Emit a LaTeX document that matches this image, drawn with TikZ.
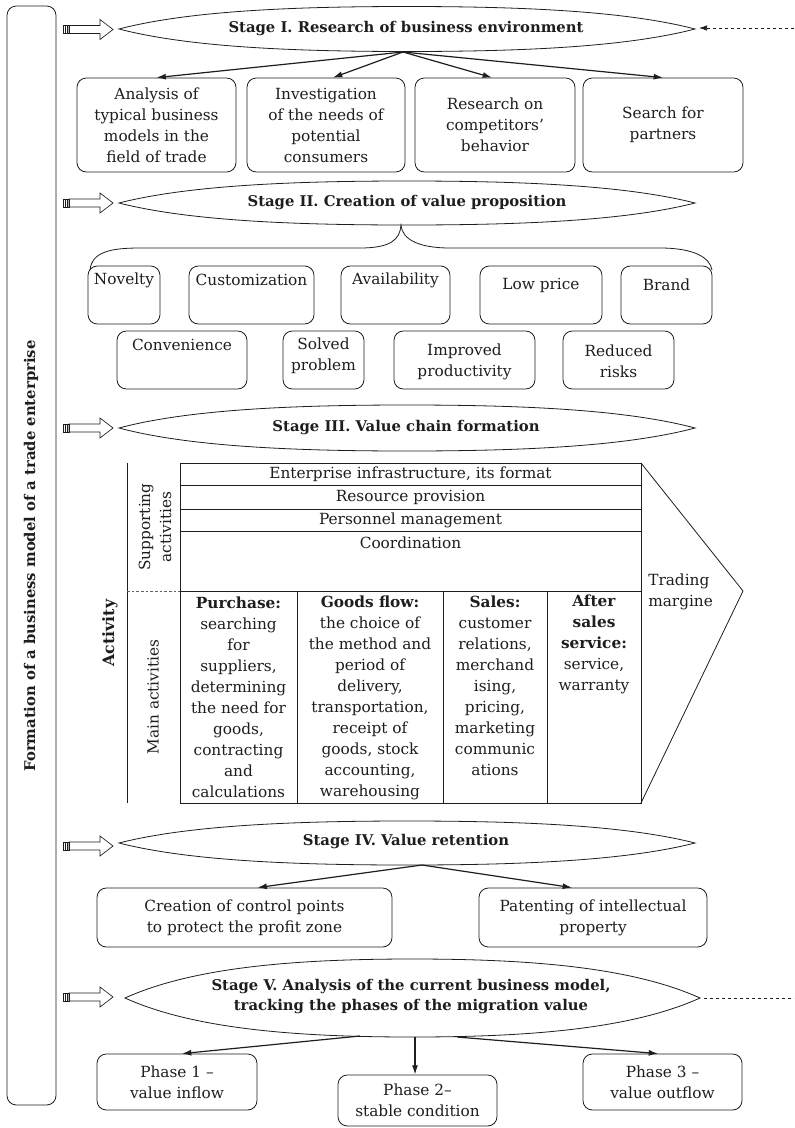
\documentclass[tikz,border=0pt]{standalone}
\usepackage{fontspec}
\setmainfont{DejaVu Serif}
\usetikzlibrary{arrows.meta,calc}
\def\u{0.75pt}
\newcommand\bx{\fontsize{11.5}{15.75}\selectfont}
\newcommand\ttlfont{\fontsize{11.1}{15}\selectfont\bfseries}
\definecolor{ink}{HTML}{1E1E1E}
\newcommand\lensshape[4]{%
 \draw[lens] (#1,#3) .. controls ({#1+0.12*(#2-#1)},{#3-0.8*#4}) and ({#1+0.3*(#2-#1)},{#3-#4}) .. ({(#1+#2)/2},{#3-#4})
  .. controls ({#2-0.3*(#2-#1)},{#3-#4}) and ({#2-0.12*(#2-#1)},{#3-0.8*#4}) .. (#2,#3)
  .. controls ({#2-0.12*(#2-#1)},{#3+0.8*#4}) and ({#2-0.3*(#2-#1)},{#3+#4}) .. ({(#1+#2)/2},{#3+#4})
  .. controls ({#1+0.3*(#2-#1)},{#3+#4}) and ({#1+0.12*(#2-#1)},{#3+0.8*#4}) .. cycle;}
\tikzset{
 lens/.style={draw=ink, line width=0.6pt},
 box/.style={draw=ink, rounded corners=7pt, line width=0.6pt, inner sep=0pt, align=center, font=\bx, text=ink},
 txt/.style={font=\bx, align=center, inner sep=0pt, text=ink},
 ttl/.style={font=\ttlfont, align=center, inner sep=0pt, text=ink},
 arr/.style={draw=ink, -{Latex[length=7pt,width=4.5pt]}, line width=0.9pt},
 tbl/.style={draw=ink, line width=0.7pt},
 harrow/.pic={
  \draw[ink, line width=0.5pt, fill=white] (69,-4) -- (100,-4) -- (100,-10) -- (113,0) -- (100,10) -- (100,4) -- (69,4) -- cycle;
  \draw[ink, line width=0.4pt] (63,-4) rectangle (69,4);
  \draw[ink, line width=0.4pt] (65,-4) -- (65,4) (67,-4) -- (67,4);
 }
}
\begin{document}
\begin{tikzpicture}[x=0.75pt,y=-0.75pt]
\useasboundingbox (0,0) rectangle (794,1128);
\fill[white] (0,0) rectangle (794,1128);

% frame
\node[draw=ink, rounded corners=7pt, line width=0.6pt, minimum width=49*\u, minimum height=1099*\u, inner sep=0pt] (frame) at (31.5,555.5) {};
\node[rotate=90, font=\fontsize{11.1}{12}\selectfont\bfseries, text=ink] (frametxt) at (31,556) {Formation of a business model of a trade enterprise};

% hollow arrows
\pic at (0,29.5) {harrow};
\pic at (0,203) {harrow};
\pic at (0,428) {harrow};
\pic at (0,846) {harrow};
\pic at (0,997) {harrow};

% Stage I
\lensshape{119}{695}{29}{22.5}
\node[ttl] (s1) at (406,29) {Stage I. Research of business environment};
\coordinate (s1b) at (403,52);
\coordinate (s1r) at (699,28);
\coordinate (fbk) at (794,28);
\draw[draw=ink, line width=0.5pt, dash pattern=on 2.5pt off 2pt, -{Latex[length=6pt,width=4pt]}] (fbk) -- (s1r);

\node[box, minimum width=159*\u, minimum height=94*\u] (b1) at (156.5,125) {Analysis of\\typical business\\models in the\\field of trade};
\node[box, minimum width=158*\u, minimum height=94*\u] (b2) at (326,125) {Investigation\\of the needs of\\potential\\consumers};
\node[box, minimum width=160*\u, minimum height=94*\u] (b3) at (495,125) {Research on\\competitors'\\behavior};
\node[box, minimum width=160*\u, minimum height=94*\u] (b4) at (663,125) {Search for\\partners};
\draw[arr] (s1b) -- (b1.north);
\draw[arr] (s1b) -- ($(b2.north)+(7,0)$);
\draw[arr] (s1b) -- ($(b3.north)+(-3,0)$);
\draw[arr] (s1b) -- (b4.north);

% Stage II
\lensshape{119}{695}{203}{22}
\node[ttl] (s2) at (407,203) {Stage II. Creation of value proposition};
\coordinate (s2b) at (401,225);
\draw[draw=ink, line width=0.6pt] (90,270) .. controls (92,252) and (110,248) .. (140,248) -- (360,248)
  .. controls (390,248) and (400,240) .. (s2b) .. controls (402,240) and (420,248) .. (450,248) -- (660,248)
  .. controls (695,248) and (710,258) .. (712,270);

\node[box, minimum width=72*\u, minimum height=58*\u] (nov) at (124,295) {};
\node[txt] (novt) at (124,280) {Novelty};
\node[box, minimum width=125*\u, minimum height=58*\u] (cus) at (251.5,295) {};
\node[txt] (cust) at (251.5,280) {Customization};
\node[box, minimum width=109*\u, minimum height=58*\u] (ava) at (395.5,295) {};
\node[txt] (avat) at (395.5,280) {Availability};
\node[box, minimum width=122*\u, minimum height=58*\u] (low) at (541,295) {};
\node[txt] (lowt) at (541,285) {Low price};
\node[box, minimum width=91*\u, minimum height=58*\u] (bra) at (666.5,295) {};
\node[txt] (brat) at (666.5,285) {Brand};

\node[box, minimum width=130*\u, minimum height=58*\u] (con) at (182,360) {};
\node[txt] (cont) at (182,345) {Convenience};
\node[box, minimum width=81*\u, minimum height=58*\u] (sol) at (323.5,360) {};
\node[txt] (solt) at (323.5,356) {Solved\\problem};
\node[box, minimum width=141*\u, minimum height=58*\u] (imp) at (464.5,360) {};
\node[txt] (impt) at (464.5,361.5) {Improved\\productivity};
\node[box, minimum width=111*\u, minimum height=58*\u] (red) at (618.5,360) {};
\node[txt] (redt) at (618.5,361.5) {Reduced\\risks};

% Stage III
\lensshape{119}{695}{428}{23}
\node[ttl] (s3) at (406,428) {Stage III. Value chain formation};

\draw[tbl] (127,463) -- (127,803);
\draw[draw=ink!70, line width=0.6pt, dash pattern=on 2pt off 1.5pt] (127,591) -- (180,591);
\draw[tbl] (180,463) rectangle (641,803);
\draw[tbl] (180,485) -- (641,485) (180,509) -- (641,509) (180,531) -- (641,531) (180,591) -- (641,591);
\draw[tbl] (297,591) -- (297,803) (443,591) -- (443,803) (547,591) -- (547,803);
\draw[draw=ink, line width=0.6pt] (641,463) -- (743,591) -- (641,803);

\node[rotate=90, font=\fontsize{11.8}{12}\selectfont\bfseries, text=ink] (act) at (110,633) {Activity};
\node[txt, rotate=90] (sup) at (155,527) {Supporting\\activities};
\node[txt, rotate=90] (mai) at (153,697) {Main activities};

\node[txt] (r1) at (410.5,474) {Enterprise infrastructure, its format};
\node[txt] (r2) at (410.5,497) {Resource provision};
\node[txt] (r3) at (410.5,520) {Personnel management};
\node[txt] (r4) at (410.5,543) {Coordination};

\node[txt] (c1) at (238.5,697.5) {\textbf{Purchase:}\\searching\\for\\suppliers,\\determining\\the need for\\goods,\\contracting\\and\\calculations};
\node[txt] (c2) at (370,697.5) {\textbf{Goods flow:}\\the choice of\\the method and\\period of\\delivery,\\transportation,\\receipt of\\goods, stock\\accounting,\\warehousing};
\node[txt] (c3) at (495,686) {\textbf{Sales:}\\customer\\relations,\\merchand\\ising,\\pricing,\\marketing\\communic\\ations};
\node[txt] (c4) at (594,644) {\textbf{After}\\\textbf{sales}\\\textbf{service:}\\service,\\warranty};
\node[txt, align=left, anchor=west] (tm) at (648,591.5) {Trading\\margine};

% Stage IV
\lensshape{119}{695}{843}{22}
\node[ttl] (s4) at (406,842) {Stage IV. Value retention};
\coordinate (s4b) at (422,865);
\node[box, minimum width=295*\u, minimum height=59*\u] (cp) at (244.5,917.5) {Creation of control points\\to protect the profit zone};
\node[box, minimum width=228*\u, minimum height=59*\u] (pat) at (593,917.5) {Patenting of intellectual\\property};
\draw[arr] (s4b) -- ($(cp.north)+(13,0)$);
\draw[arr] (s4b) -- ($(pat.north)+(-21,0)$);

% Stage V
\lensshape{125}{700}{998}{39}
\node[ttl] (s5) at (411,997) {Stage V. Analysis of the current business model,\\tracking the phases of the migration value};
\coordinate (s5a) at (360,1036);
\coordinate (s5m) at (415,1037);
\coordinate (s5c) at (457,1037);
\coordinate (s5r) at (704,998);
\coordinate (fwd) at (794,998);
\draw[draw=ink, line width=0.5pt, dash pattern=on 2.5pt off 2pt] (s5r) -- (fwd);

\node[box, minimum width=160*\u, minimum height=56*\u] (p1) at (177,1082) {Phase 1 –\\value inflow};
\node[box, minimum width=159*\u, minimum height=51*\u] (p2) at (417.5,1100.5) {Phase 2–\\stable condition};
\node[box, minimum width=159*\u, minimum height=56*\u] (p3) at (662.5,1082) {Phase 3 –\\value outflow};
\draw[arr] (s5a) -- ($(p1.north)+(5,0)$);
\draw[arr] (s5m) -- ($(p2.north)+(-2.5,0)$);
\draw[arr] (s5c) -- ($(p3.north)+(-4.5,0)$);
\end{tikzpicture}
\end{document}
